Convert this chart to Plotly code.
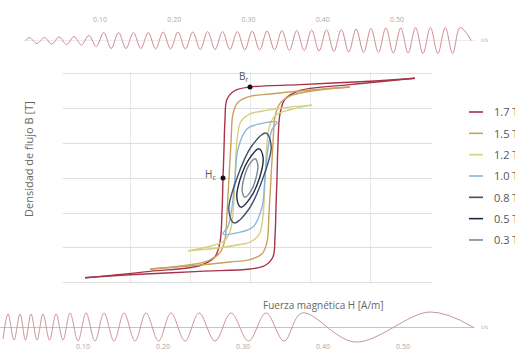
import plotly.graph_objects as go

W, H = 515, 352
FONT = "Open Sans"

# ---- hysteresis loops: H in A/m, B in T (descending branch, then ascending branch) ----
loop_names = ["1.7 T", "1.5 T", "1.2 T", "1.0 T", "0.8 T", "0.5 T", "0.3 T"]
loop_colors = ["#a8344b", "#c9a15d", "#d7d07c", "#8cb6da", "#43516c", "#1f2c48", "#80858f"]

loop17_h = [165, 120, 50, 0, -15, -23, -25, -26, -27, -28, -30, -35, -50, -100, -165,
            -120, -50, 0, 15, 23, 25, 26, 27, 28, 30, 35, 50, 100, 165]
loop17_b = [1.71, 1.66, 1.60, 1.56, 1.50, 1.35, 1.00, 0.50, 0.00, -0.60, -1.10, -1.35, -1.50, -1.60, -1.71,
            -1.66, -1.60, -1.56, -1.50, -1.35, -1.00, -0.50, 0.00, 0.60, 1.10, 1.35, 1.50, 1.60, 1.71]

loop15_h = [100, 55, 20, 0, -12, -17, -19, -21, -23, -25, -30, -42, -65, -100,
            -55, -20, 0, 12, 17, 19, 21, 23, 25, 30, 42, 65, 100]
loop15_b = [1.56, 1.50, 1.44, 1.40, 1.30, 1.10, 0.60, 0.00, -0.60, -1.05, -1.28, -1.42, -1.50, -1.56,
            -1.50, -1.44, -1.40, -1.30, -1.10, -0.60, 0.00, 0.60, 1.05, 1.28, 1.42, 1.50, 1.56]

loop12_h = [62, 32, 10, 0, -9, -13, -15, -17, -20, -26, -40, -62,
            -32, -10, 0, 9, 13, 15, 17, 20, 26, 40, 62]
loop12_b = [1.25, 1.20, 1.14, 1.10, 0.97, 0.65, 0.00, -0.60, -0.92, -1.08, -1.17, -1.25,
            -1.20, -1.14, -1.10, -0.97, -0.65, 0.00, 0.60, 0.92, 1.08, 1.17, 1.25]

loop10_h = [27, 13, -3, -12, -15, -18, -22, -27, -13, 3, 12, 15, 18, 22, 27]
loop10_b = [0.96, 0.94, 0.84, 0.50, 0.00, -0.50, -0.83, -0.96, -0.94, -0.84, -0.50, 0.00, 0.50, 0.83, 0.96]

loop08_h = [16, 1.4, -13, -21.2, -16, -1.4, 13, 21.2, 16]
loop08_b = [0.77, 0.54, 0.00, -0.54, -0.77, -0.54, 0.00, 0.54, 0.77]

loop05_h = [9, 0, -9.5, -13.1, -9, 0, 9.5, 13.1, 9]
loop05_b = [0.50, 0.35, 0.00, -0.35, -0.50, -0.35, 0.00, 0.35, 0.50]

loop03_h = [5, -0.7, -6, -7.8, -5, 0.7, 6, 7.8, 5]
loop03_b = [0.33, 0.23, 0.00, -0.23, -0.33, -0.23, 0.00, 0.23, 0.33]

loops_h = [loop17_h, loop15_h, loop12_h, loop10_h, loop08_h, loop05_h, loop03_h]
loops_b = [loop17_b, loop15_b, loop12_b, loop10_b, loop08_b, loop05_b, loop03_b]
# major loops end in sharp saturation tips; minor loops are smooth closed curves
sharp_tips = [True, True, True, False, False, False, False]

# remanence and coercivity on the major loop
br_point = (0, 1.56)
hc_point = (-27, 0.00)

# ---- time traces (t in s) ----
top_t = [0.0, 0.005, 0.015, 0.025, 0.035, 0.045, 0.055, 0.065, 0.075, 0.085, 0.095,
         0.105, 0.115, 0.125, 0.135, 0.145, 0.155, 0.165, 0.175, 0.185, 0.195,
         0.205, 0.215, 0.225, 0.235, 0.245, 0.255, 0.265, 0.275, 0.285, 0.295,
         0.305, 0.315, 0.325, 0.335, 0.345, 0.355, 0.365, 0.375, 0.385, 0.395,
         0.405, 0.415, 0.425, 0.435, 0.445, 0.455, 0.465, 0.475, 0.485, 0.495,
         0.505, 0.515, 0.525, 0.535, 0.545, 0.555, 0.565, 0.575, 0.585, 0.6]
top_v = [0, 3, -3, 3, -3.5, 3.5, -4, 4, -4.5, 5, -6,
         8, -8, 8, -8, 8, -8, 8, -8.5, 8.5, -8.5,
         8.5, -8.5, 8.5, -9, 9, -9, 9, -9, 9, -9.5,
         9.5, -9.5, 9.5, -9.5, 10, -10, 10, -10, 10.5, -10.5,
         11, -11, 11, -11.5, 11.5, -12, 12, -12, 12.5, -12.5,
         12.5, -12.5, 13, -13, 13, -13, 13, -13, 13, 0]

bottom_t = [0.0, 0.0063, 0.0138, 0.0213, 0.0281, 0.035, 0.0425, 0.05, 0.0581, 0.0663,
            0.075, 0.0838, 0.0938, 0.1038, 0.115, 0.1263, 0.1388, 0.1513, 0.165, 0.1788,
            0.1944, 0.21, 0.2275, 0.245, 0.265, 0.285, 0.3069, 0.3288, 0.3513, 0.3738,
            0.44, 0.5338, 0.5875]
bottom_v = [-12, 13, -13, 13, -13, 13, -13, 13, -13, 13,
            -13, 14, -14, 14, -14, 14, -14, 14, -14, 14,
            -14, 14, -14, 14, -14, 14, -14, 14, -14, 14,
            -15, 15, 0]

tick_vals = [0.1, 0.2, 0.3, 0.4, 0.5]
tick_text = ["0.10", "0.20", "0.30", "0.40", "0.50"]


def xp(px):
    return px / W


def yp(py):
    return 1 - py / H


fig = go.Figure()

for name, color, hs, bs, sharp in zip(loop_names, loop_colors, loops_h, loops_b, sharp_tips):
    if sharp:
        # draw both branches as separate smooth curves meeting at the tips
        k = bs.index(min(bs))
        xs = hs[:k + 1] + [None] + hs[k:]
        ys = bs[:k + 1] + [None] + bs[k:]
    else:
        xs, ys = hs, bs
    fig.add_trace(go.Scatter(
        x=xs, y=ys, mode="lines", name=name, showlegend=False, connectgaps=False,
        line=dict(color=color, width=1.4, shape="spline", smoothing=1.0),
        xaxis="x", yaxis="y", hoverinfo="skip"))

fig.add_trace(go.Scatter(
    x=[br_point[0], hc_point[0]], y=[br_point[1], hc_point[1]], mode="markers",
    marker=dict(color="#111111", size=5), showlegend=False, hoverinfo="skip"))

fig.add_trace(go.Scatter(
    x=top_t, y=top_v, mode="lines", showlegend=False, hoverinfo="skip",
    line=dict(color="#d08a95", width=1, shape="spline", smoothing=1.0),
    xaxis="x2", yaxis="y2"))
fig.add_trace(go.Scatter(
    x=bottom_t, y=bottom_v, mode="lines", showlegend=False, hoverinfo="skip",
    line=dict(color="#c9959c", width=1, shape="spline", smoothing=1.0),
    xaxis="x3", yaxis="y3"))

annotations = [
    dict(text="Densidad de flujo B [T]", x=xp(28), y=yp(159), textangle=-90,
         font=dict(size=11, color="#666666", family=FONT)),
    dict(text="Fuerza magnética H [A/m]", x=xp(323), y=yp(305),
         font=dict(size=10, color="#666666", family=FONT)),
    dict(text="B<sub>r</sub>", x=xp(243), y=yp(76),
         font=dict(size=10, color="#555555", family=FONT)),
    dict(text="H<sub>c</sub>", x=xp(210), y=yp(175),
         font=dict(size=10, color="#555555", family=FONT)),
    dict(text="t/s", x=xp(484), y=yp(40), font=dict(size=6, color="#aaaaaa", family=FONT)),
    dict(text="t/s", x=xp(484), y=yp(327), font=dict(size=6, color="#aaaaaa", family=FONT)),
]
for a in annotations:
    a.update(xanchor="center", yanchor="middle")

shapes = []
for i, (name, color) in enumerate(zip(loop_names, loop_colors)):
    yc = 112 + 21.33 * i
    shapes.append(dict(type="line", xref="paper", yref="paper",
                       x0=xp(469), x1=xp(483), y0=yp(yc), y1=yp(yc),
                       line=dict(color=color, width=1.6)))
    annotations.append(dict(text=name, x=xp(492), y=yp(yc), xanchor="left", yanchor="middle",
                            font=dict(size=11, color="#555555", family=FONT)))
for a in annotations:
    a.update(xref="paper", yref="paper", showarrow=False)

fig.update_layout(
    width=W, height=H, margin=dict(l=0, r=0, t=0, b=0),
    paper_bgcolor="white", plot_bgcolor="white",
    font=dict(family=FONT, color="#666666"),
    showlegend=False,
    annotations=annotations, shapes=shapes,
    xaxis=dict(domain=[xp(63), xp(432)], range=[-187, 182], anchor="y",
               tickvals=[-120, -60, 0, 60, 120], showticklabels=False,
               showgrid=True, gridcolor="#e8e8e8", gridwidth=1,
               zeroline=False, showline=False, ticks=""),
    yaxis=dict(domain=[yp(284), yp(72)], range=[-1.8173, 1.8173], anchor="x",
               tickvals=[-1.8, -1.2, -0.6, 0, 0.6, 1.2, 1.8], showticklabels=False,
               showgrid=True, gridcolor="#dedede", gridwidth=1,
               zeroline=False, showline=False, ticks=""),
    xaxis2=dict(domain=[xp(24), xp(475)], range=[-0.00235, 0.60505], anchor="y2",
                side="top", tickvals=tick_vals, ticktext=tick_text,
                tickfont=dict(size=7, color="#aaaaaa", family=FONT),
                showgrid=False, zeroline=False, showline=False, ticks=""),
    yaxis2=dict(domain=[yp(56.5), yp(24.5)], range=[-16, 16], anchor="x2",
                showticklabels=False, showgrid=False, zeroline=True,
                zerolinecolor="#ececec", zerolinewidth=1, ticks=""),
    xaxis3=dict(domain=[0, xp(475)], range=[-0.00375, 0.59], anchor="free",
                position=yp(341), tickvals=tick_vals, ticktext=tick_text,
                tickfont=dict(size=7, color="#aaaaaa", family=FONT),
                showgrid=False, zeroline=False, showline=False, ticks=""),
    yaxis3=dict(domain=[yp(347), yp(307)], range=[-20, 20], anchor="x3",
                showticklabels=False, showgrid=False, zeroline=True,
                zerolinecolor="#c4c4c4", zerolinewidth=1, ticks=""),
)

fig.write_html("out.html")
